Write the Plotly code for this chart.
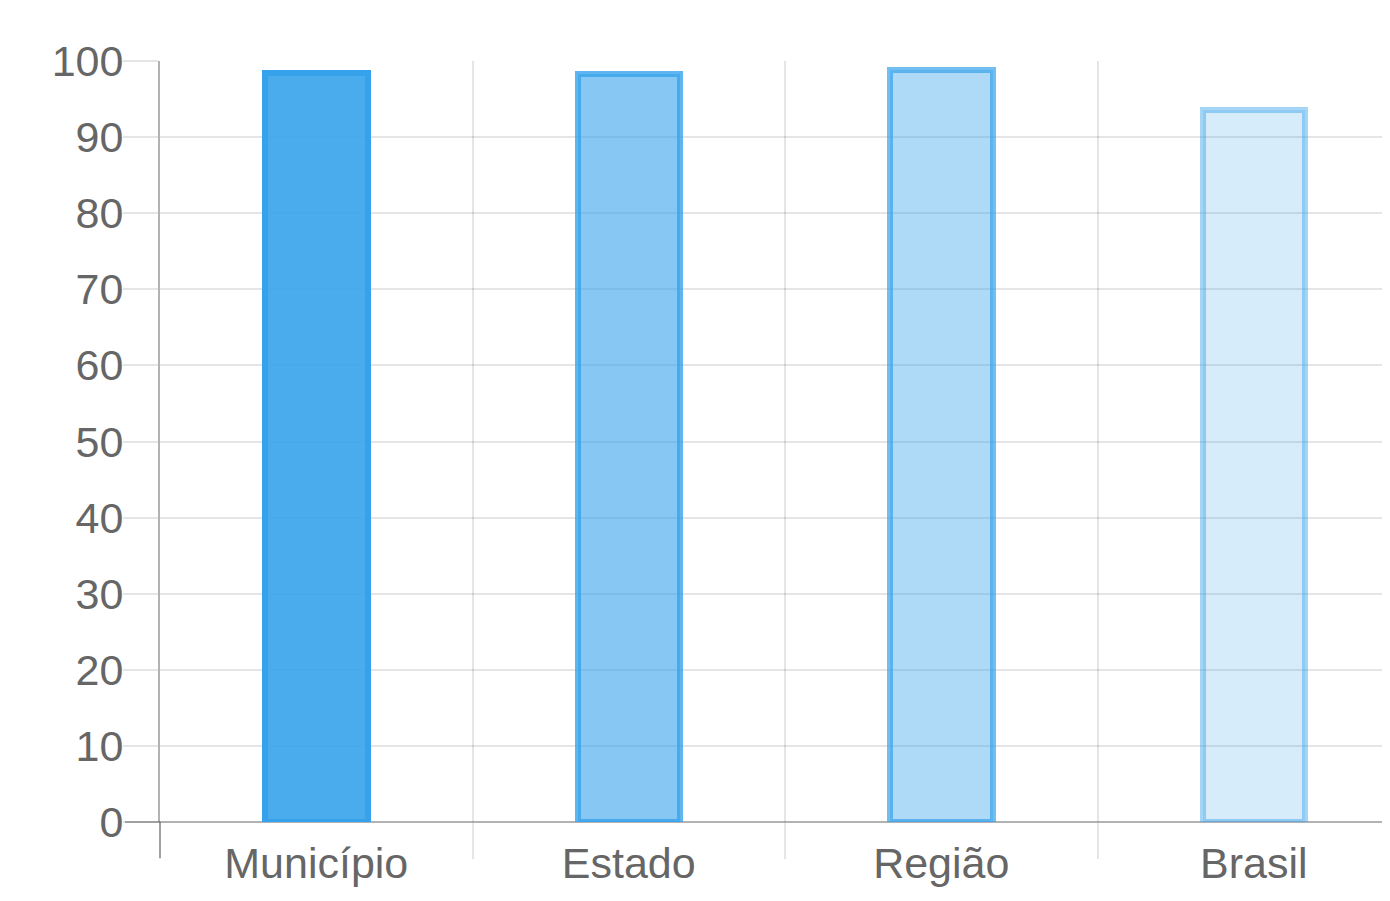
import plotly.graph_objects as go

categories = ["Município", "Estado", "Região", "Brasil"]
values = [98.4, 98.3, 98.8, 93.5]
fill_colors = ["rgba(54,162,235,0.9)", "rgba(54,162,235,0.6)",
               "rgba(54,162,235,0.4)", "rgba(54,162,235,0.2)"]
line_colors = ["rgba(54,162,235,1)", "rgba(54,162,235,0.8)",
               "rgba(54,162,235,0.7)", "rgba(54,162,235,0.45)"]
y_ticks = list(range(0, 101, 10))

# page body has an 8px margin; compensate
W, H = 1382, 885
L, T, B, R = 152, 53, 71, 0
plot_w = W - L - R
plot_h = H - T - B
cat_px = 312.5

fig = go.Figure()
fig.add_trace(go.Bar(
    x=categories, y=values,
    width=0.328,
    marker=dict(color=fill_colors, line=dict(color=line_colors, width=6)),
    hoverinfo="x+y",
))

font = dict(family="Liberation Sans, Arial, sans-serif", size=43, color="#666666")
grid = "rgba(0,0,0,0.1)"
dark = "rgba(0,0,0,0.3)"

fig.update_layout(
    width=W, height=H,
    margin=dict(l=L, r=R, t=T, b=B, pad=0, autoexpand=False),
    plot_bgcolor="white", paper_bgcolor="white",
    showlegend=False,
    font=font,
    bargap=0,
    xaxis=dict(
        type="category",
        range=[-0.5, -0.5 + plot_w / cat_px],
        tickson="boundaries",
        showgrid=True, gridcolor=grid, gridwidth=2,
        ticks="outside", ticklen=36, tickcolor=grid, tickwidth=2,
        showline=False, zeroline=False,
        tickfont=font,
        ticklabelstandoff=12,
        automargin=False,
        fixedrange=True,
    ),
    yaxis=dict(
        range=[0, 100],
        tickvals=y_ticks,
        showgrid=True, gridcolor=grid, gridwidth=2,
        ticks="outside", ticklen=35, tickcolor=grid, tickwidth=2,
        showline=True, linecolor=dark, linewidth=2,
        zeroline=True, zerolinecolor=dark, zerolinewidth=2,
        tickfont=font,
        ticklabelstandoff=-9,
        automargin=False,
        fixedrange=True,
    ),
    shapes=[
        dict(type="line", xref="paper", yref="paper",
             x0=0, x1=0, y0=-36 / plot_h, y1=0,
             line=dict(color=dark, width=2)),
        dict(type="line", xref="paper", yref="paper",
             x0=-35 / plot_w, x1=0, y0=0, y1=0,
             line=dict(color=dark, width=2)),
    ],
)

fig.write_html("out.html")
